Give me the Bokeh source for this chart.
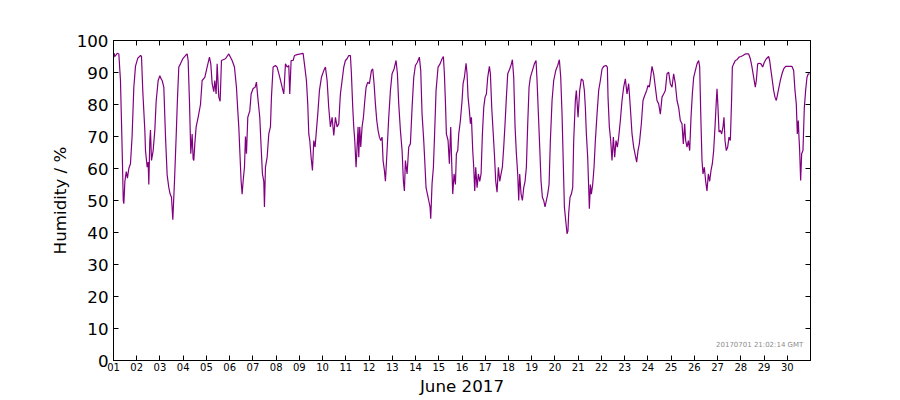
import numpy as np
import pandas as pd
from datetime import datetime
from bokeh.plotting import figure
from bokeh.models import (ColumnDataSource, Range1d, FixedTicker, DatetimeTickFormatter,
                          DatetimeAxis, LinearAxis, Label)
from bokeh.embed import file_html
from bokeh.resources import INLINE

# ---- data: day of June 2017 (fractional) and relative humidity (%) ----
day = [
    1.00, 1.03, 1.06, 1.16, 1.23, 1.30, 1.37, 1.42, 1.445, 1.49, 1.55, 1.60, 1.66, 1.73, 1.80, 1.875, 1.947,
    2.047, 2.162, 2.205, 2.262, 2.348, 2.377, 2.449, 2.492, 2.520, 2.563, 2.592, 2.635, 2.707, 2.779, 2.836,
    2.922, 2.994, 3.051, 3.094, 3.166, 3.238, 3.309, 3.381, 3.438, 3.496, 3.553, 3.625, 3.697, 3.754, 3.811,
    3.883, 3.983, 4.098, 4.170, 4.213, 4.270, 4.327, 4.385, 4.428, 4.457, 4.500, 4.557, 4.643, 4.744, 4.815,
    4.930, 5.030, 5.131, 5.188, 5.246, 5.317, 5.360, 5.417, 5.461, 5.532, 5.590, 5.647,
    5.819, 5.963, 6.106, 6.206, 6.292, 6.350, 6.393, 6.436, 6.493, 6.536, 6.579, 6.637, 6.680, 6.723, 6.780,
    6.866, 6.924, 7.010, 7.096, 7.153, 7.210, 7.296, 7.354, 7.411, 7.469, 7.497, 7.540, 7.612, 7.684, 7.755,
    7.798, 7.870, 7.971, 8.042, 8.157, 8.258, 8.329, 8.401, 8.473, 8.544, 8.587, 8.645, 8.731, 8.788, 8.903,
    9.046, 9.161, 9.218, 9.304, 9.362, 9.405, 9.448, 9.505, 9.563, 9.620, 9.677, 9.735, 9.792, 9.864, 9.950,
    10.050, 10.122, 10.194, 10.265, 10.337, 10.409, 10.481, 10.552, 10.624, 10.696, 10.739,
    10.767, 10.839, 10.911, 10.982, 11.054, 11.126, 11.197, 11.240, 11.298, 11.341, 11.384, 11.441, 11.484,
    11.527, 11.556, 11.599, 11.642, 11.699, 11.757, 11.814, 11.872, 11.943, 12.015, 12.101, 12.158, 12.216,
    12.273, 12.331, 12.388, 12.445, 12.503, 12.560, 12.603, 12.660, 12.704, 12.775, 12.847, 12.919, 12.990,
    13.076, 13.162, 13.220, 13.277, 13.349, 13.421, 13.478, 13.521, 13.564, 13.636, 13.708, 13.779, 13.851,
    13.923, 13.994, 14.080, 14.166, 14.224, 14.281, 14.353, 14.396, 14.453, 14.511, 14.568, 14.625, 14.654,
    14.711, 14.769, 14.826, 14.884, 14.970, 15.056, 15.142, 15.199, 15.242, 15.285, 15.328, 15.400, 15.457,
    15.515, 15.558, 15.601, 15.658, 15.716,
    15.759, 15.817, 15.860, 15.931, 16.003, 16.046, 16.103, 16.175, 16.218, 16.261, 16.319, 16.362, 16.405,
    16.462, 16.505, 16.548, 16.591, 16.648, 16.706, 16.763, 16.821, 16.878, 16.935, 16.993, 17.050, 17.107,
    17.179, 17.222, 17.280, 17.337, 17.394, 17.452, 17.509, 17.566, 17.624, 17.681, 17.738, 17.796, 17.853,
    17.911, 17.968, 18.054, 18.126, 18.169, 18.226, 18.284, 18.341, 18.398, 18.441, 18.484, 18.542, 18.599,
    18.657, 18.714, 18.771, 18.829, 18.886, 18.943, 19.029, 19.115, 19.187, 19.230, 19.288, 19.345, 19.402,
    19.460, 19.517, 19.574, 19.632, 19.689, 19.747, 19.804, 19.876, 19.947, 20.034, 20.120, 20.191, 20.249,
    20.306, 20.349, 20.407, 20.464, 20.521,
    20.560, 20.592, 20.650, 20.707, 20.765, 20.808, 20.879, 20.922, 20.994, 21.066, 21.137, 21.209, 21.267,
    21.310, 21.353, 21.410, 21.453, 21.482, 21.525, 21.568, 21.625, 21.683, 21.740, 21.812, 21.883, 21.955,
    22.027, 22.098, 22.199, 22.256, 22.285, 22.342, 22.400, 22.457, 22.514, 22.572, 22.629, 22.687, 22.744,
    22.816, 22.887, 22.959, 23.031, 23.102, 23.174, 23.246, 23.318, 23.389, 23.461, 23.518, 23.576, 23.633,
    23.719, 23.791, 23.863, 23.949, 24.006, 24.063, 24.121, 24.178, 24.250, 24.322, 24.393, 24.465, 24.537,
    24.609, 24.680, 24.752, 24.824, 24.895, 24.967, 25.039, 25.110, 25.182, 25.254, 25.326, 25.397, 25.469,
    25.526, 25.584,
    25.627, 25.685, 25.742, 25.800, 25.857, 25.914, 25.972, 26.043, 26.115, 26.187, 26.230, 26.287, 26.330,
    26.373, 26.431, 26.488, 26.545, 26.603, 26.660, 26.718, 26.775, 26.832, 26.890, 26.947, 26.976, 27.019,
    27.062, 27.119, 27.177, 27.234, 27.277, 27.320, 27.377, 27.435, 27.492, 27.550, 27.607, 27.636, 27.693,
    27.765, 27.836, 27.922, 28.008, 28.095, 28.195, 28.338, 28.410, 28.482, 28.554, 28.625, 28.668, 28.726,
    28.797, 28.869, 28.941, 29.013, 29.099, 29.199, 29.242, 29.299, 29.357, 29.414, 29.472, 29.529, 29.586,
    29.644, 29.701, 29.773, 29.845, 29.931, 30.060, 30.203, 30.275, 30.332, 30.389, 30.432, 30.475, 30.504,
    30.533, 30.576, 30.619, 30.676, 30.734, 30.791, 30.849, 30.906, 30.963,
]

humidity = [
    94.5, 96, 95, 96, 95.8, 87.5, 66.7, 50, 49, 56, 59, 57, 60, 61.5, 70, 85.4, 92,
    94.5, 95.3, 95, 84, 72, 65.6, 60.4, 62, 55, 68.75, 72, 62.5, 65.6, 72, 81,
    87.5, 89, 88, 87.5, 85.4, 70, 58, 54, 52, 51, 44, 56, 70, 82, 91.7,
    92.7, 94.3, 95.3, 95.8, 93.75, 81, 64.6, 70.8, 63, 62.5, 67.7, 73, 76, 80, 87.5,
    88.5, 91.7, 94.8, 92.7, 86.5, 84, 87.5, 83.3, 92.7, 82.3, 81, 93.75,
    94.3, 95.8, 93.75, 91.7, 85.4, 78, 73, 65.6, 56, 52, 56, 60.4, 70, 64.6, 76,
    78, 83.3, 85, 85.4, 87, 82.3, 76, 66.7, 58.3, 56, 48, 60.4, 63.5, 70.8, 73,
    82.3, 91.7, 92.2, 91.7, 88.5, 85.4, 83.3, 92.7, 91.7, 92.2, 83.3, 93.75, 93.75, 95.3, 95.6,
    95.8, 96, 92.7, 87.5, 80, 70.8, 68.75, 63.5, 59.4, 68.75, 66.7, 72, 77, 84.4, 88.5,
    90.6, 91.7, 87.5, 79, 73, 76, 70.3, 76, 73, 74, 80,
    83.3, 87.5, 91.7, 93.75, 94.3, 95.3, 95.3, 89.6, 79, 73, 68.75, 60.4, 66.7,
    73, 63.5, 73, 66.7, 73, 76, 81, 85.4, 87, 86.5, 90.6, 91.1, 86.5,
    80.2, 75, 71.9, 69.8, 68.75, 69.8, 62.5, 59.4, 56, 65.6, 76, 84.4, 89.6,
    91.1, 93.75, 89.6, 80.2, 71.9, 65.6, 56, 53, 62.5, 58.3, 66.7, 67.7, 79,
    88.5, 92.2, 93.2, 94.8, 90.6, 77, 68.75, 62.5, 54, 52, 50, 48, 44.3,
    55.2, 60.4, 71.9, 84.4, 91.7, 92.7, 94.3, 95, 89.6, 81.25, 70.8, 68.75, 61.5,
    73, 61.5, 52, 58.3, 55,
    64.6, 65.6, 70.8, 75, 81.25, 86.5, 88.5, 92.9, 89.6, 82.3, 78, 74, 76,
    65.6, 60.4, 53, 60.4, 54, 58.3, 56, 58.3, 70.8, 79, 82.3, 83.3, 88.5,
    91.9, 89.6, 79, 71.9, 64.6, 56, 52.6, 60.4, 56, 58.3, 60.4, 66.7, 74,
    82.3, 89.6, 91.1, 92.7, 94, 88.5, 73, 64.6, 58.3, 50, 58.3, 52, 50,
    54, 56, 60.4, 74, 85.4, 88.5, 90.6, 92.7, 93.75, 87.5, 77, 66.7, 56,
    51, 50, 48, 50, 52, 55, 68.75, 81.25, 87.5, 90.6, 92.2, 94, 88.5,
    77, 64.6, 48, 43.75, 39.6,
    40.5, 46, 51, 52, 54, 68.75, 81.25, 84.4, 76, 84.4, 88, 87.5, 84.4,
    79, 70.8, 63.5, 54, 47.4, 55, 52, 55, 60.4, 68.75, 77, 84.4, 87.5,
    91.1, 91.9, 92.2, 91.7, 82.3, 73, 68.75, 62.5, 69.8, 63.5, 68.75, 66.7, 69.8,
    75, 81.25, 85.4, 88, 83.3, 86.5, 79, 70.8, 66.7, 64, 62, 65.6, 67.7,
    74, 81.25, 82.8, 84.4, 86, 85.4, 88.5, 91.9, 89.6, 85.4, 81.25, 80.2, 77,
    82.3, 83.3, 84.4, 89.6, 90.1, 86.5, 85.4, 89.6, 86.5, 81.25, 79, 75, 74,
    67.7, 74,
    68.75, 66.7, 68.75, 65.6, 76, 83.3, 88.5, 90.6, 92.7, 93.75, 91.7, 74, 62.5,
    58.3, 60.4, 56, 53, 58.3, 56, 59.4, 61.5, 65.6, 73, 81.25, 84.9, 79,
    71.4, 71.9, 70.8, 73, 76, 68.75, 65.6, 66.7, 69.8, 68.75, 82.3, 91.7, 92.7,
    93.75, 94, 94.8, 95, 95.3, 95.8, 95.8, 94.3, 91.7, 88.5, 85.4, 87.5, 92.7,
    92.9, 92.7, 91.7, 93.2, 94.3, 95, 93.75, 90.6, 87.5, 84.4, 82.3, 81.25, 83.3,
    85.4, 87.5, 89.6, 91.1, 91.9, 91.9, 91.9, 90.6, 84.4, 80.2, 70.8, 75, 69.8,
    65.6, 56.25, 64.6, 65.6, 79, 84.4, 88.5, 89.6, 89.6,
]

tick_days = list(range(1, 31))
y_ticks = list(range(0, 101, 10))
stamp_text = "20170701 21:02:14 GMT"

# ---- build ----
base = pd.Timestamp("2017-06-01")
t = base + pd.to_timedelta(np.array(day) - 1.0, unit="D")
src = ColumnDataSource(data=dict(t=t, h=humidity))

def ms(ts):
    return ts.value / 1e6

tick_ms = [ms(pd.Timestamp(2017, 6, d)) for d in tick_days]

FONT = "DejaVu Sans"

p = figure(width=900, height=400, output_backend="svg", toolbar_location=None,
           x_axis_type="datetime",
           x_range=Range1d(datetime(2017, 6, 1), datetime(2017, 7, 1)),
           y_range=Range1d(0, 100),
           min_border_left=113, min_border_right=90, min_border_top=40, min_border_bottom=40)

p.line("t", "h", source=src, line_color="#800080", line_width=1.2)

p.grid.visible = False
p.outline_line_color = "black"
p.outline_line_width = 1
p.background_fill_color = "white"
p.border_fill_color = "white"

fmt = DatetimeTickFormatter(days="%d", hours="%d", months="%d", hourmin="%d",
                            minutes="%d", seconds="%d", milliseconds="%d", minsec="%d", years="%d")

xa = p.xaxis[0]
xa.ticker = FixedTicker(ticks=tick_ms)
xa.formatter = fmt
xa.major_tick_in = 5
xa.major_tick_out = 0
xa.minor_tick_in = 0
xa.minor_tick_out = 0
xa.major_tick_line_color = "black"
xa.major_label_text_font = FONT
xa.major_label_text_font_size = "10px"
xa.major_label_text_color = "black"
xa.major_label_standoff = 2
xa.axis_label = "June 2017"
xa.axis_label_text_font = FONT
xa.axis_label_text_font_size = "16.7px"
xa.axis_label_text_font_style = "normal"
xa.axis_label_text_color = "black"
xa.axis_label_standoff = 2
xa.axis_line_color = "black"

ya = p.yaxis[0]
ya.ticker = FixedTicker(ticks=y_ticks)
ya.major_tick_in = 5
ya.major_tick_out = 0
ya.minor_tick_in = 0
ya.minor_tick_out = 0
ya.major_tick_line_color = "black"
ya.major_label_text_font = FONT
ya.major_label_text_font_size = "16.7px"
ya.major_label_text_color = "black"
ya.major_label_standoff = 5
ya.axis_label = "Humidity / %"
ya.axis_label_text_font = FONT
ya.axis_label_text_font_size = "16.7px"
ya.axis_label_text_font_style = "normal"
ya.axis_label_text_color = "black"
ya.axis_label_standoff = 4
ya.axis_line_color = "black"

top = DatetimeAxis(ticker=FixedTicker(ticks=tick_ms), formatter=fmt,
                   major_tick_in=5, major_tick_out=0, minor_tick_in=0, minor_tick_out=0,
                   major_tick_line_color="black",
                   major_label_text_color=None, axis_line_color="black")
p.add_layout(top, "above")
right = LinearAxis(ticker=FixedTicker(ticks=y_ticks),
                   major_tick_in=5, major_tick_out=0, minor_tick_in=0, minor_tick_out=0,
                   major_tick_line_color="black",
                   major_label_text_color=None, axis_line_color="black")
p.add_layout(right, "right")

stamp_x = ms(base + pd.to_timedelta(29.69, unit="D"))
p.add_layout(Label(x=stamp_x, y=4.7, text=stamp_text, text_align="right",
                   text_baseline="middle", text_font=FONT, text_font_size="7px",
                   text_color="#8c8c8c"))

open("out.html", "w").write(file_html(p, INLINE))
